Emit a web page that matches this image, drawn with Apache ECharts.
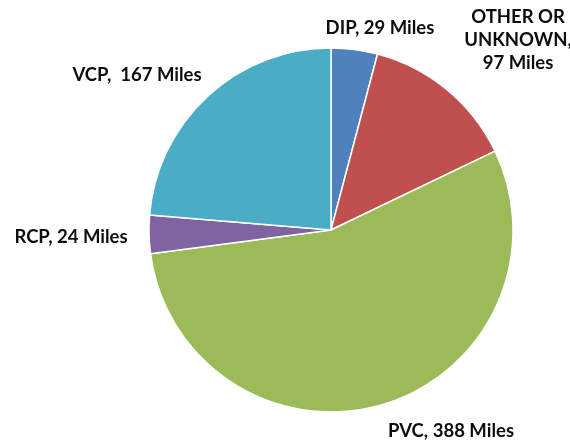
<!DOCTYPE html>
<html><head><meta charset="utf-8">
<script src="https://cdn.jsdelivr.net/npm/echarts@6/dist/echarts.min.js"></script>
<style>html,body{margin:0;padding:0;background:#fff}#c{width:570px;height:441px}</style>
</head><body><div id="c"></div>
<script>
var categories = ['DIP', 'OTHER OR UNKNOWN', 'PVC', 'RCP', 'VCP'];
var labelNames = ['DIP, 29 Miles', 'OTHER OR\nUNKNOWN,\n97 Miles', 'PVC, 388 Miles', 'RCP, 24 Miles', 'VCP,  167 Miles'];
var values = [29, 97, 388, 24, 167];
var colors = ['#4F81BD', '#C0504D', '#9BBB59', '#8064A2', '#4BACC6'];
var labelPos = [[380, 28], [518, 40], [451, 431], [71, 237], [137, 75]];

var chart = echarts.init(document.getElementById('c'));
chart.setOption({
  animation: false,
  series: [{
    type: 'pie',
    center: [331, 230],
    radius: 182,
    startAngle: 90,
    clockwise: true,
    data: values.map(function (v, i) {
      return { value: v, name: labelNames[i], itemStyle: { color: colors[i] } };
    }),
    itemStyle: { borderColor: '#fff', borderWidth: 1.5 },
    label: {
      show: true,
      position: 'outside',
      formatter: '{b}',
      fontFamily: 'Lato',
      fontWeight: 'bold',
      fontSize: 18.5,
      lineHeight: 23,
      color: '#0d0d0d',
      align: 'center',
      overflow: 'none',
      width: 200
    },
    labelLine: { show: false },
    labelLayout: function (p) {
      return { x: labelPos[p.dataIndex][0], y: labelPos[p.dataIndex][1], align: 'center', verticalAlign: 'middle', hideOverlap: false };
    }
  }]
});
</script></body></html>
